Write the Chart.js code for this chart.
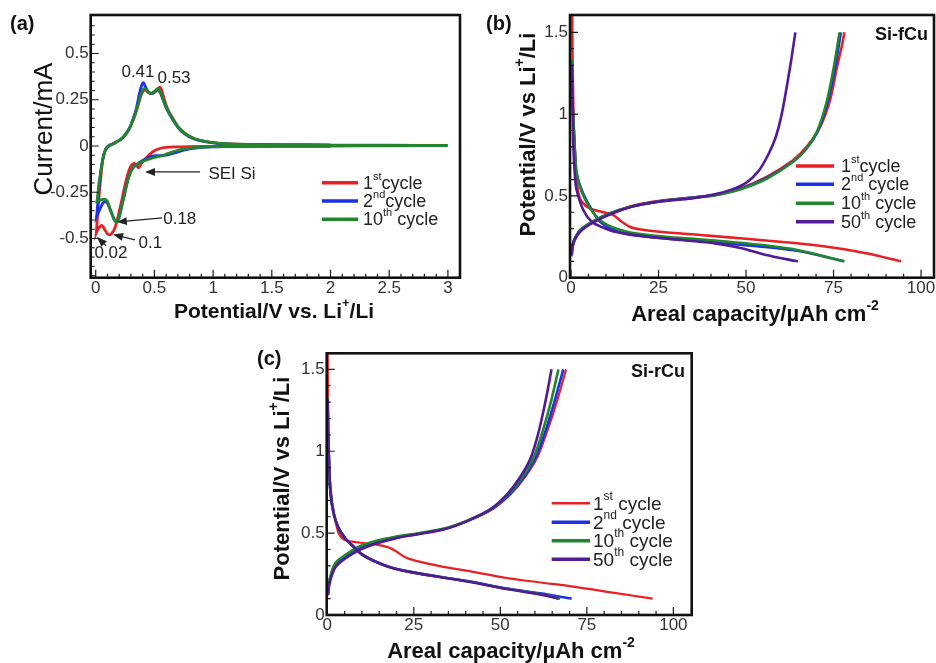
<!DOCTYPE html>
<html lang="en">
<head>
<meta charset="UTF-8" />
<title>Si electrodes: CV and capacity curves</title>
<script src="https://cdn.jsdelivr.net/npm/chart.js"></script>
<style>
  body { margin: 0; background: #fff; }
  #wrap { position: relative; width: 936px; height: 663px; }
  canvas { position: absolute; }
</style>
</head>
<body>
<div id="wrap">
  <canvas id="cvChart" width="466" height="330" style="left:0;top:0"></canvas>
  <canvas id="fcuChart" width="470" height="330" style="left:466px;top:0"></canvas>
  <canvas id="rcuChart" width="460" height="333" style="left:240px;top:330px"></canvas>
</div>
<script>
// ---- (a) cyclic voltammetry, [potential V, current mA] ----
const cv1Cath = [[2.0,0.0],[1.5,-0.001],[1.0,-0.002],[0.8,-0.003],[0.68,-0.005],[0.6,-0.008],[0.54,-0.015],[0.5,-0.026],[0.47,-0.04],[0.44,-0.058],[0.41,-0.078],[0.385,-0.098],[0.365,-0.118],[0.35,-0.108],[0.33,-0.094],[0.31,-0.1],[0.29,-0.12],[0.27,-0.16],[0.25,-0.21],[0.23,-0.27],[0.207,-0.335],[0.185,-0.395],[0.165,-0.44],[0.14,-0.47],[0.12,-0.48],[0.1,-0.475],[0.08,-0.455],[0.06,-0.435],[0.045,-0.43],[0.03,-0.44],[0.015,-0.455],[0.005,-0.47]];
const cv1Anod = [[0.005,-0.47],[0.012,-0.41],[0.02,-0.34],[0.03,-0.26],[0.042,-0.18],[0.055,-0.1],[0.07,-0.045],[0.09,-0.012],[0.11,0.0],[0.14,0.01],[0.19,0.026],[0.23,0.045],[0.26,0.066],[0.29,0.097],[0.32,0.14],[0.345,0.185],[0.37,0.24],[0.39,0.28],[0.41,0.302],[0.43,0.3],[0.455,0.287],[0.48,0.285],[0.505,0.292],[0.53,0.31],[0.548,0.318],[0.565,0.295],[0.59,0.24],[0.62,0.19],[0.65,0.158],[0.69,0.115],[0.73,0.085],[0.79,0.056],[0.85,0.038],[0.92,0.026],[1.0,0.018],[1.1,0.012],[1.3,0.008],[1.6,0.006],[2.0,0.005]];
const cv2Cath = [[2.0,0.0],[1.5,-0.001],[1.2,-0.002],[1.0,-0.005],[0.85,-0.011],[0.75,-0.022],[0.67,-0.038],[0.6,-0.05],[0.54,-0.052],[0.48,-0.055],[0.42,-0.072],[0.37,-0.09],[0.33,-0.11],[0.305,-0.13],[0.28,-0.17],[0.26,-0.22],[0.24,-0.275],[0.22,-0.33],[0.2,-0.385],[0.18,-0.41],[0.16,-0.4],[0.14,-0.37],[0.12,-0.34],[0.1,-0.31],[0.08,-0.3],[0.06,-0.31],[0.04,-0.335],[0.02,-0.365],[0.008,-0.38]];
const cv2Anod = [[0.008,-0.38],[0.015,-0.33],[0.025,-0.25],[0.038,-0.17],[0.052,-0.1],[0.07,-0.045],[0.09,-0.012],[0.11,0.0],[0.14,0.01],[0.19,0.026],[0.23,0.045],[0.26,0.068],[0.29,0.1],[0.32,0.15],[0.345,0.2],[0.365,0.26],[0.385,0.315],[0.405,0.342],[0.42,0.325],[0.445,0.295],[0.475,0.283],[0.5,0.29],[0.525,0.302],[0.545,0.293],[0.565,0.265],[0.59,0.222],[0.62,0.182],[0.647,0.152],[0.69,0.11],[0.73,0.08],[0.79,0.053],[0.85,0.036],[0.92,0.025],[1.0,0.017],[1.1,0.011],[1.3,0.008],[1.6,0.006],[2.0,0.005]];
const cv10Cath = [[3.0,0.002],[2.5,0.001],[2.0,0.0],[1.5,-0.001],[1.2,-0.002],[1.0,-0.004],[0.85,-0.009],[0.76,-0.015],[0.68,-0.027],[0.62,-0.04],[0.55,-0.055],[0.48,-0.066],[0.42,-0.078],[0.37,-0.092],[0.33,-0.11],[0.305,-0.13],[0.28,-0.17],[0.26,-0.22],[0.24,-0.275],[0.22,-0.33],[0.2,-0.385],[0.18,-0.41],[0.16,-0.4],[0.14,-0.37],[0.12,-0.335],[0.1,-0.3],[0.08,-0.288],[0.05,-0.29],[0.03,-0.295],[0.01,-0.3]];
const cv10Anod = [[0.01,-0.3],[0.018,-0.26],[0.028,-0.2],[0.04,-0.15],[0.055,-0.09],[0.07,-0.045],[0.09,-0.012],[0.11,0.0],[0.14,0.01],[0.19,0.026],[0.23,0.045],[0.26,0.068],[0.29,0.1],[0.32,0.145],[0.345,0.19],[0.37,0.245],[0.39,0.285],[0.41,0.31],[0.43,0.305],[0.455,0.288],[0.477,0.285],[0.5,0.295],[0.525,0.308],[0.545,0.3],[0.565,0.27],[0.59,0.225],[0.62,0.185],[0.647,0.155],[0.69,0.113],[0.73,0.083],[0.79,0.055],[0.85,0.038],[0.92,0.026],[1.0,0.018],[1.1,0.012],[1.3,0.008],[1.6,0.006],[2.0,0.005],[2.5,0.004],[3.0,0.003]];

// ---- (b) Si-fCu, [areal capacity uAh/cm2, potential V] ----
const f1Dis = [[0.3,1.7],[0.45,1.3],[0.7,1.0],[0.86,0.88],[1.43,0.64],[2.1,0.516],[3.05,0.465],[5.4,0.424],[9.2,0.4],[12.1,0.383],[14.5,0.342],[16.9,0.31],[20,0.295],[25.4,0.281],[36.9,0.261],[48.3,0.241],[59.7,0.22],[71,0.195],[84.3,0.15],[94.3,0.1]];
const f1Chg = [[0.2,0.14],[0.5,0.19],[1.14,0.23],[2.57,0.29],[5.4,0.33],[9.2,0.373],[14,0.414],[19.7,0.45],[27.3,0.475],[34.9,0.49],[40.7,0.505],[48.3,0.546],[55.9,0.617],[63.5,0.72],[67.3,0.8],[71.1,0.92],[74,1.086],[76,1.29],[77.4,1.42],[78.1,1.5]];
const f2Dis = [[0.2,1.33],[0.4,1.1],[0.67,0.96],[1.14,0.76],[1.6,0.64],[3.05,0.536],[5.4,0.434],[7.8,0.353],[10.2,0.312],[13.5,0.281],[17.3,0.261],[26.9,0.24],[36.4,0.226],[45.9,0.206],[55.4,0.188],[65,0.163],[78.1,0.1]];
const f2Chg = [[0.2,0.14],[0.5,0.2],[1.14,0.24],[2.6,0.29],[5.9,0.34],[10.7,0.39],[17.3,0.435],[24.9,0.465],[34.5,0.49],[41,0.505],[48,0.54],[55.9,0.61],[63.5,0.71],[67.3,0.79],[70.6,0.9],[73.4,1.08],[75.5,1.29],[77.1,1.5]];
const f10Dis = [[0.2,1.33],[0.4,1.1],[0.67,0.97],[1.14,0.77],[1.6,0.64],[3.05,0.525],[5.4,0.425],[7.8,0.362],[10.2,0.325],[13.5,0.296],[17.3,0.275],[26.9,0.25],[36.4,0.235],[45.9,0.218],[55.4,0.198],[65,0.168],[78,0.1]];
const f10Chg = [[0.2,0.15],[0.5,0.2],[1.14,0.24],[2.6,0.29],[5.9,0.34],[10.7,0.39],[17.3,0.435],[24.9,0.465],[34.5,0.488],[41,0.503],[48,0.538],[55.9,0.605],[63.5,0.71],[67.3,0.79],[70.4,0.9],[73.1,1.08],[75.1,1.29],[76.7,1.5]];
const f50Dis = [[0.2,1.3],[0.5,1.0],[0.67,0.8],[1.14,0.617],[1.6,0.536],[3.5,0.414],[5.9,0.342],[8.8,0.31],[12.6,0.281],[22.1,0.25],[31.6,0.23],[41.1,0.21],[48.8,0.18],[55.4,0.14],[64.8,0.1]];
const f50Chg = [[0.1,0.13],[0.3,0.17],[0.67,0.22],[2.6,0.281],[5.9,0.332],[10.7,0.383],[17.3,0.434],[24.9,0.465],[34.5,0.485],[41.1,0.51],[46,0.54],[50,0.58],[53.5,0.65],[56.3,0.75],[58.5,0.86],[60.2,1.0],[62.6,1.29],[64.1,1.5]];

// ---- (c) Si-rCu, [areal capacity uAh/cm2, potential V] ----
const r1Dis = [[0.1,1.7],[0.3,1.13],[0.78,0.824],[1.36,0.7],[2.3,0.58],[3.3,0.499],[4.7,0.462],[7.1,0.448],[11,0.438],[14.9,0.427],[17.7,0.413],[20.1,0.386],[22.5,0.352],[25.4,0.332],[32.2,0.3],[41.8,0.265],[51.8,0.226],[61,0.2],[71.1,0.173],[83,0.135],[94,0.1]];
const r1Chg = [[0.2,0.13],[0.4,0.18],[0.87,0.23],[2.3,0.31],[5.2,0.36],[9.1,0.41],[13.9,0.447],[19.7,0.474],[26.4,0.496],[34.1,0.527],[41,0.578],[48,0.65],[53.2,0.743],[57.2,0.844],[60.6,0.96],[63.5,1.12],[66.3,1.3],[69,1.5]];
const r2Dis = [[0.1,1.33],[0.25,1.1],[0.4,1.0],[0.87,0.763],[1.84,0.62],[3.3,0.529],[5.2,0.468],[7.6,0.417],[10,0.37],[12.9,0.336],[17.7,0.295],[23.5,0.265],[32.2,0.234],[41.8,0.203],[51.4,0.163],[61.5,0.132],[70.6,0.1]];
const r2Chg = [[0.2,0.13],[0.4,0.18],[0.87,0.23],[2.3,0.31],[5.2,0.36],[9.1,0.41],[13.9,0.447],[19.7,0.474],[26.4,0.496],[34.1,0.527],[40.9,0.578],[47.8,0.65],[53,0.743],[56.9,0.844],[60.2,0.96],[63,1.12],[65.6,1.3],[68.2,1.5]];
const r10Dis = [[0.1,1.33],[0.25,1.1],[0.4,1.0],[0.87,0.763],[1.84,0.62],[3.3,0.529],[5.2,0.468],[7.6,0.417],[10,0.37],[12.9,0.336],[17.7,0.295],[23.5,0.265],[32.2,0.234],[41.8,0.202],[51.4,0.162],[61.5,0.128],[67.3,0.1]];
const r10Chg = [[0.2,0.13],[0.4,0.19],[0.87,0.234],[2.3,0.316],[5.2,0.366],[9.1,0.417],[13.9,0.452],[19.7,0.478],[26.4,0.499],[34.1,0.529],[40.9,0.58],[47.6,0.651],[52.6,0.743],[56.4,0.844],[59.6,0.96],[62.2,1.12],[64.6,1.3],[66.8,1.5]];
const r50Dis = [[0.1,1.32],[0.25,1.1],[0.4,1.0],[0.87,0.76],[1.84,0.62],[3.3,0.529],[5.2,0.468],[7.6,0.417],[10,0.37],[12.9,0.336],[17.7,0.295],[23.5,0.265],[32.2,0.233],[41.8,0.2],[51.4,0.16],[61.5,0.126],[66.8,0.1]];
const r50Chg = [[0.2,0.12],[0.4,0.16],[0.87,0.21],[2.3,0.29],[5.2,0.345],[9.1,0.395],[13.9,0.435],[19.7,0.468],[26.4,0.494],[34.1,0.525],[40.9,0.578],[47.4,0.65],[52.2,0.743],[55.8,0.844],[58.8,0.96],[61.1,1.12],[63,1.3],[64.8,1.5]];

// ---- ticks ----
const cvTicksX = [0, 0.5, 1, 1.5, 2, 2.5, 3];
const cvTicksY = [-0.5, -0.25, 0, 0.25, 0.5];
const capTicksX = [0, 25, 50, 75, 100];
const capTicksY = [0, 0.5, 1, 1.5];

const FONT = '"Liberation Sans", Arial, Helvetica, sans-serif';
const RED = 'rgb(232,32,36)', BLUE = 'rgb(28,48,232)', GREEN = 'rgb(34,134,44)', PURPLE = 'rgb(82,26,150)';

function pts(arr) { return arr.map(p => ({ x: p[0], y: p[1] })); }

function line(arr, color, order, width) {
  return {
    data: pts(arr), showLine: true, borderColor: color, backgroundColor: color,
    borderWidth: width || 2.6, pointRadius: 0, tension: 0.3, fill: false, order: order
  };
}

// text with ^superscript parts
function drawRich(ctx, parts, x, y, size, weight, align) {
  const small = Math.round(size * 0.62);
  let total = 0;
  const segs = parts.map(p => {
    const sup = p.startsWith('^');
    const t = sup ? p.slice(1) : p;
    ctx.font = weight + ' ' + (sup ? small : size) + 'px ' + FONT;
    const w = ctx.measureText(t).width;
    total += w;
    return { t, sup, w };
  });
  let cx = align === 'center' ? x - total / 2 : align === 'right' ? x - total : x;
  ctx.textAlign = 'left';
  ctx.textBaseline = 'middle';
  segs.forEach(s => {
    ctx.font = weight + ' ' + (s.sup ? small : size) + 'px ' + FONT;
    ctx.fillText(s.t, cx, s.sup ? y - size * 0.4 : y);
    cx += s.w;
  });
}

function drawArrow(ctx, x1, y1, x2, y2) {
  const a = Math.atan2(y2 - y1, x2 - x1), h = 10, w = 4;
  ctx.beginPath();
  ctx.moveTo(x1, y1);
  ctx.lineTo(x2 - Math.cos(a) * h * 0.7, y2 - Math.sin(a) * h * 0.7);
  ctx.stroke();
  ctx.beginPath();
  ctx.moveTo(x2, y2);
  ctx.lineTo(x2 - h * Math.cos(a) + w * Math.sin(a), y2 - h * Math.sin(a) - w * Math.cos(a));
  ctx.lineTo(x2 - h * Math.cos(a) - w * Math.sin(a), y2 - h * Math.sin(a) + w * Math.cos(a));
  ctx.closePath();
  ctx.fill();
}

// frame, inward ticks, titles, legend, notes
function decor(cfg) {
  return {
    id: 'decor',
    afterDraw(chart) {
      const ctx = chart.ctx, a = chart.chartArea, xs = chart.scales.x, ys = chart.scales.y;
      ctx.save();
      ctx.strokeStyle = '#1a1a1a';
      ctx.lineWidth = 1.2;
      ctx.beginPath();
      for (let i = 0; ; i++) {
        const v = cfg.minorX[0] + i * cfg.minorX[1];
        if (v > xs.max) break;
        const p = xs.getPixelForValue(v);
        if (p > a.right - 2) continue;
        const major = cfg.ticksX.some(t => Math.abs(t - v) < 1e-6);
        ctx.moveTo(p, a.bottom); ctx.lineTo(p, a.bottom - (major ? 8 : 4));
      }
      for (let i = 0; ; i++) {
        const v = cfg.minorY[0] + i * cfg.minorY[1];
        if (v > ys.max) break;
        const p = ys.getPixelForValue(v);
        if (p < a.top + 2 || p > a.bottom - 1) continue;
        const major = cfg.ticksY.some(t => Math.abs(t - v) < 1e-6);
        ctx.moveTo(a.left, p); ctx.lineTo(a.left + (major ? 8 : 4), p);
      }
      ctx.stroke();
      ctx.lineWidth = 2.6;
      ctx.strokeStyle = '#111';
      ctx.strokeRect(a.left, a.top, a.right - a.left, a.bottom - a.top);

      ctx.fillStyle = '#111';
      const tx = cfg.titleX;
      drawRich(ctx, tx.parts, tx.x, tx.y, tx.size, tx.weight, 'center');
      const ty = cfg.titleY;
      ctx.save();
      ctx.translate(ty.x, ty.y);
      ctx.rotate(-Math.PI / 2);
      drawRich(ctx, ty.parts, 0, 0, ty.size, ty.weight, 'center');
      ctx.restore();

      drawRich(ctx, [cfg.panel[0]], cfg.panel[1], cfg.panel[2], 20, 'bold', 'left');
      if (cfg.tag) drawRich(ctx, [cfg.tag[0]], cfg.tag[1], cfg.tag[2], 18, 'bold', 'right');

      const lg = cfg.legend;
      lg.items.forEach((it, i) => {
        ctx.strokeStyle = it.color;
        ctx.lineWidth = it.width || 3.5;
        ctx.beginPath();
        ctx.moveTo(lg.x1, lg.ys[i]); ctx.lineTo(lg.x2, lg.ys[i]);
        ctx.stroke();
        ctx.fillStyle = '#222';
        drawRich(ctx, it.parts, lg.tx, lg.ys[i] + 1, lg.size, 'normal', 'left');
      });

      ctx.fillStyle = '#222';
      ctx.strokeStyle = '#222';
      ctx.lineWidth = 1.3;
      (cfg.notes || []).forEach(n => {
        drawRich(ctx, [n[0]], xs.getPixelForValue(n[1]), ys.getPixelForValue(n[2]), 17, 'normal', n[3] || 'center');
      });
      (cfg.arrows || []).forEach(r => {
        drawArrow(ctx, xs.getPixelForValue(r[0]), ys.getPixelForValue(r[1]),
          xs.getPixelForValue(r[2]), ys.getPixelForValue(r[3]));
      });
      ctx.restore();
    }
  };
}

function makeChart(id, datasets, s, cfg) {
  const cv = document.getElementById(id);
  const W = cv.width, H = cv.height;
  const tickFont = { size: 17, family: FONT };
  return new Chart(cv, {
    type: 'scatter',
    data: { datasets },
    options: {
      responsive: false,
      animation: false,
      events: [],
      layout: { padding: { left: 0, top: s.area.top, right: W - s.area.right, bottom: 0 } },
      plugins: { legend: { display: false }, tooltip: { enabled: false } },
      scales: {
        x: {
          type: 'linear', min: s.x[0], max: s.x[1],
          grid: { display: false, drawTicks: false }, border: { display: false },
          afterBuildTicks: ax => { ax.ticks = s.tx.map(v => ({ value: v })); },
          afterFit: ax => { ax.height = H - s.area.bottom; },
          ticks: { padding: 0, autoSkip: false, maxRotation: 0, color: '#333', font: tickFont, callback: v => String(v) }
        },
        y: {
          type: 'linear', min: s.y[0], max: s.y[1],
          grid: { display: false, drawTicks: false }, border: { display: false },
          afterBuildTicks: ax => { ax.ticks = s.ty.map(v => ({ value: v })); },
          afterFit: ax => { ax.width = s.area.left; },
          ticks: { padding: 2, autoSkip: false, color: '#333', font: tickFont, callback: v => String(v) }
        }
      }
    },
    plugins: [decor(cfg)]
  });
}

// (a)
makeChart('cvChart', [
  line(cv10Cath.concat(cv10Anod), GREEN, 0, 2.8),
  line(cv2Cath.concat(cv2Anod), BLUE, 1, 2.8),
  line(cv1Cath.concat(cv1Anod), RED, 2, 2.8)
], { area: { left: 90.7, top: 15, right: 460, bottom: 277.7 }, x: [-0.0426, 3.103], y: [-0.712, 0.708], tx: cvTicksX, ty: cvTicksY }, {
  minorX: [0, 0.1], minorY: [-0.7, 0.05], ticksX: cvTicksX, ticksY: cvTicksY,
  titleX: { parts: ['Potential/V vs. Li', '^+', '/Li'], x: 274, y: 312, size: 21, weight: 'bold' },
  titleY: { parts: ['Current/mA'], x: 45, y: 129, size: 26, weight: 'normal' },
  panel: ['(a)', 10, 24],
  legend: { x1: 322, x2: 358, tx: 363, ys: [182.7, 201, 219.3], size: 18, items: [
    { color: RED, parts: ['1', '^st', 'cycle'] },
    { color: BLUE, parts: ['2', '^nd', 'cycle'] },
    { color: GREEN, parts: ['10', '^th', ' cycle'] }
  ] },
  notes: [['0.41', 0.36, 0.40], ['0.53', 0.667, 0.368], ['SEI Si', 0.96, -0.151, 'left'], ['0.18', 0.575, -0.395, 'left'], ['0.1', 0.365, -0.524, 'left'], ['0.02', 0.13, -0.578]],
  arrows: [[0.889, -0.14, 0.42, -0.14], [0.566, -0.389, 0.18, -0.411], [0.335, -0.508, 0.148, -0.478], [0.088, -0.54, 0.011, -0.492]]
});

// (b)
makeChart('fcuChart', [
  line(f50Dis, PURPLE, 0), line(f50Chg, PURPLE, 0),
  line(f10Dis, GREEN, 1), line(f10Chg, GREEN, 1),
  line(f2Dis, BLUE, 2), line(f2Chg, BLUE, 2),
  line(f1Dis, RED, 3), line(f1Chg, RED, 3)
], { area: { left: 104, top: 15, right: 468, bottom: 277.7 }, x: [-0.29, 103.7], y: [0, 1.606], tx: capTicksX, ty: capTicksY }, {
  minorX: [0, 5], minorY: [0, 0.1], ticksX: capTicksX, ticksY: capTicksY,
  titleX: { parts: ['Areal capacity/\u00b5Ah cm', '^-2'], x: 289, y: 315, size: 22, weight: 'bold' },
  titleY: { parts: ['Potential/V vs Li', '^+', '/Li'], x: 63, y: 134.5, size: 22, weight: 'bold' },
  panel: ['(b)', 20, 24],
  tag: ['Si-fCu', 462, 35.5],
  legend: { x1: 330, x2: 368, tx: 375, ys: [166, 184.3, 203.3, 221.7], size: 18, items: [
    { color: RED, parts: ['1', '^st', 'cycle'] },
    { color: BLUE, parts: ['2', '^nd', ' cycle'] },
    { color: GREEN, parts: ['10', '^th', ' cycle'] },
    { color: PURPLE, parts: ['50', '^th', ' cycle'] }
  ] }
});

// (c)
makeChart('rcuChart', [
  line(r50Dis, PURPLE, 0), line(r50Chg, PURPLE, 0),
  line(r10Dis, GREEN, 1), line(r10Chg, GREEN, 1),
  line(r2Dis, BLUE, 2), line(r2Chg, BLUE, 2),
  line(r1Dis, RED, 3, 2.2), line(r1Chg, RED, 3, 2.2)
], { area: { left: 86.7, top: 23.3, right: 451.7, bottom: 285 }, x: [-0.17, 105.3], y: [0, 1.598], tx: capTicksX, ty: capTicksY }, {
  minorX: [0, 5], minorY: [0, 0.1], ticksX: capTicksX, ticksY: capTicksY,
  titleX: { parts: ['Areal capacity/\u00b5Ah cm', '^-2'], x: 271, y: 322, size: 22, weight: 'bold' },
  titleY: { parts: ['Potential/V vs Li', '^+', '/Li'], x: 43, y: 148.5, size: 22, weight: 'bold' },
  panel: ['(c)', 17, 29],
  tag: ['Si-rCu', 445, 42.5],
  legend: { x1: 311.7, x2: 350, tx: 353, ys: [173.3, 192.3, 210.7, 229.3], size: 19, items: [
    { color: RED, parts: ['1', '^st', ' cycle'], width: 2.5 },
    { color: BLUE, parts: ['2', '^nd', ' cycle'] },
    { color: GREEN, parts: ['10', '^th', ' cycle'] },
    { color: PURPLE, parts: ['50', '^th', ' cycle'] }
  ] }
});
</script>
</body>
</html>
